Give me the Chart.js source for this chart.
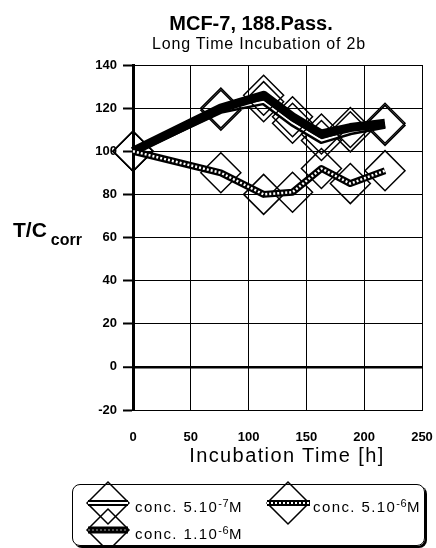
<!DOCTYPE html>
<html>
<head>
<meta charset="utf-8">
<script src="https://cdn.jsdelivr.net/npm/chart.js@4.4.0/dist/chart.umd.min.js"></script>
<style>
  html, body { margin: 0; padding: 0; background: #fff; }
  body { width: 436px; height: 548px; position: relative; overflow: hidden;
         font-family: "Liberation Sans", Arial, sans-serif; color: #000; }
  #chart { position: absolute; left: 0; top: 0; }
  .txt { position: absolute; white-space: nowrap; }
  #title { font-weight: bold; font-size: 20px; line-height: 20px; top: 13px; left: 251px; transform: translateX(-50%); }
  #subtitle { font-size: 16px; line-height: 16px; top: 36px; left: 259px; transform: translateX(-50%); letter-spacing: 0.8px; }
  #xtitle { font-size: 20px; line-height: 20px; top: 445px; left: 287px; transform: translateX(-50%); letter-spacing: 1.4px; }
  #ytitle { font-weight: bold; font-size: 21px; line-height: 21px; top: 219px; left: 13px; }
  #ytitle sub { font-size: 16px; vertical-align: -8px; margin-left: 4px; }
  #legend { position: absolute; left: 72px; top: 484px; width: 351px; height: 60px;
            border: 1px solid #000; border-radius: 8px; box-shadow: 2px 2px 0 #000; }
  #legendSym { position: absolute; left: 0; top: 0; }
  .leg { position: absolute; font-size: 15px; line-height: 16px; letter-spacing: 1.4px; }
  .leg sup { font-size: 11px; vertical-align: 5px; letter-spacing: 0.5px; }
</style>
</head>
<body>
<canvas id="chart" width="436" height="548"></canvas>

<div class="txt" id="title">MCF-7, 188.Pass.</div>
<div class="txt" id="subtitle">Long Time Incubation of 2b</div>
<div class="txt" id="ytitle">T/C<sub>corr</sub></div>
<div class="txt" id="xtitle">Incubation Time [h]</div>

<div id="legend"></div>
<svg id="legendSym" width="436" height="548"></svg>
<div class="txt leg" style="left:135px; top:495px;">conc. 5.10<sup>-7</sup>M</div>
<div class="txt leg" style="left:135px; top:522px;">conc. 1.10<sup>-6</sup>M</div>
<div class="txt leg" style="left:313px; top:495px;">conc. 5.10<sup>-6</sup>M</div>

<script>
// Data
const hours = [0, 76, 113, 138, 163, 188, 218];
const conc5e7 = [100, 119, 123, 113, 105, 109, 112];   // conc. 5.10-7 M
const conc1e6 = [100, 120, 126, 116, 108, 111, 113];   // conc. 1.10-6 M
const conc5e6 = [100, 90, 80, 81, 92, 85, 91];         // conc. 5.10-6 M
const xTicks = [0, 50, 100, 150, 200, 250];
const yTicks = [-20, 0, 20, 40, 60, 80, 100, 120, 140];

const toPoints = vals => hours.map((h, i) => ({ x: h, y: vals[i] }));

// Base line with diamond markers (lower order = drawn on top)
function baseSet(vals, width, order) {
    return {
        data: toPoints(vals),
        borderColor: '#000',
        borderWidth: width,
        borderJoinStyle: 'round',
        tension: 0,
        pointStyle: 'rectRot',
        pointRadius: 20,
        pointHoverRadius: 20,
        pointBorderWidth: 1.5,
        pointBorderColor: '#000',
        pointBackgroundColor: 'rgba(0,0,0,0)',
        clip: false,
        order: order
    };
}

// Inner stripe drawn over the base line
function stripeSet(vals, color, width, dash, order) {
    return {
        data: toPoints(vals),
        borderColor: color,
        borderWidth: width,
        borderDash: dash,
        borderJoinStyle: 'round',
        tension: 0,
        pointRadius: 0,
        pointHoverRadius: 0,
        clip: false,
        order: order
    };
}

new Chart(document.getElementById('chart'), {
    type: 'line',
    data: {
        datasets: [
            baseSet(conc5e7, 7, 4),
            stripeSet(conc5e7, '#fff', 2, [], 3),
            baseSet(conc1e6, 9, 2),
            baseSet(conc5e6, 7, 1),
            stripeSet(conc5e6, '#fff', 2.5, [2, 2], 0)
        ]
    },
    options: {
        responsive: false,
        animation: false,
        events: [],
        layout: { autoPadding: false, padding: { top: 65, right: 14, bottom: 98, left: 0 } },
        plugins: { legend: { display: false }, tooltip: { enabled: false } },
        scales: {
            x: {
                type: 'linear',
                min: 0, max: 250,
                afterBuildTicks: s => { s.ticks = xTicks.map(v => ({ value: v })); },
                afterFit: s => { s.height = 40; s.paddingLeft = 0; s.paddingRight = 0; },
                ticks: { color: '#000', padding: 20, font: { family: 'Liberation Sans', size: 13, weight: 'bold' } },
                grid: { color: '#000', lineWidth: 1, drawTicks: false },
                border: { display: true, color: '#000', width: 1 }
            },
            y: {
                min: -20, max: 140,
                afterBuildTicks: s => { s.ticks = yTicks.map(v => ({ value: v })); },
                afterFit: s => { s.width = 133; s.paddingTop = 0; s.paddingBottom = 0; },
                ticks: { color: '#000', padding: 6, font: { family: 'Liberation Sans', size: 13, weight: 'bold' } },
                grid: {
                    color: '#000',
                    lineWidth: c => (c.tick && c.tick.value === 0 ? 2.5 : 1),
                    tickLength: 10,
                    tickWidth: 2,
                    tickColor: '#000'
                },
                border: { display: true, color: '#000', width: 3 }
            }
        }
    }
});

// Legend symbols (line sample + diamond), drawn as SVG
const svg = document.getElementById('legendSym');
const NS = 'http://www.w3.org/2000/svg';
function add(tag, attrs) {
    const el = document.createElementNS(NS, tag);
    for (const k in attrs) el.setAttribute(k, attrs[k]);
    svg.appendChild(el);
}
function diamond(cx, cy, r) {
    add('polygon', {
        points: `${cx - r},${cy} ${cx},${cy - r} ${cx + r},${cy} ${cx},${cy + r}`,
        fill: 'none', stroke: '#000', 'stroke-width': 1.5
    });
}
const legendItems = [
    { cx: 108, cy: 503, x1: 88, x2: 128, w: 6, inner: '#fff', innerW: 2, dash: '' },
    { cx: 108, cy: 530, x1: 88, x2: 128, w: 7, inner: '#555', innerW: 2, dash: '2,2' },
    { cx: 288, cy: 503, x1: 267, x2: 310, w: 6, inner: '#fff', innerW: 2, dash: '2,2' }
];
legendItems.forEach(it => {
    diamond(it.cx, it.cy, 21);
    add('line', { x1: it.x1, y1: it.cy, x2: it.x2, y2: it.cy, stroke: '#000', 'stroke-width': it.w });
    add('line', { x1: it.x1, y1: it.cy, x2: it.x2, y2: it.cy, stroke: it.inner, 'stroke-width': it.innerW,
                  'stroke-dasharray': it.dash });
});
</script>
</body>
</html>
